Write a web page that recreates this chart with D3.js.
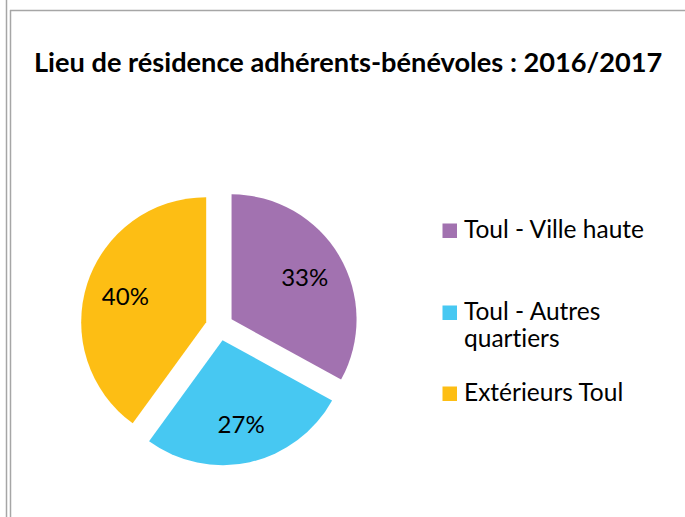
<!DOCTYPE html>
<html>
<head>
<meta charset="utf-8">
<script src="https://cdn.jsdelivr.net/npm/d3@7"></script>
<style>
  html, body { margin: 0; padding: 0; background: #fff; }
  svg { display: block; }
  text { font-family: Lato, "Open Sans", sans-serif; font-variant-ligatures: none; }
</style>
</head>
<body>
<svg id="chart" width="685" height="517"></svg>
<script>
const titleText = "Lieu de résidence adhérents-bénévoles : 2016/2017";
const categories = ["Toul - Ville haute", "Toul - Autres quartiers", "Extérieurs Toul"];
const legendLines = [["Toul - Ville haute"], ["Toul - Autres", "quartiers"], ["Extérieurs Toul"]];
const values = [33, 27, 40];
const colors = ["#A272B0", "#47C8F2", "#FDBE14"];

const svg = d3.select("#chart");

// frame lines
svg.append("line").attr("x1", 6.5).attr("x2", 6.5).attr("y1", 0).attr("y2", 517)
  .attr("stroke", "#a6a6a6").attr("stroke-width", 1.5);
svg.append("line").attr("x1", 10.5).attr("x2", 10.5).attr("y1", 10).attr("y2", 517)
  .attr("stroke", "#a6a6a6").attr("stroke-width", 1.5);
svg.append("line").attr("x1", 10).attr("x2", 685).attr("y1", 10.5).attr("y2", 10.5)
  .attr("stroke", "#a6a6a6").attr("stroke-width", 1.5);

// title
svg.append("text").attr("x", 34).attr("y", 72)
  .attr("font-weight", "bold").attr("font-size", 27.2).attr("fill", "#000")
  .text(titleText);

// pie
const cx = 219.5, cy = 326.5, r = 125, explode = 14;
const pie = d3.pie().sort(null).value(d => d)(values);
const arc = d3.arc().innerRadius(0).outerRadius(r);
const labelArc = d3.arc().innerRadius(r * 0.68).outerRadius(r * 0.68);

const g = svg.append("g").attr("transform", `translate(${cx},${cy})`);
const slices = g.selectAll("g.slice").data(pie).enter().append("g")
  .attr("class", "slice")
  .attr("transform", d => {
    const m = (d.startAngle + d.endAngle) / 2;
    return `translate(${Math.sin(m) * explode},${-Math.cos(m) * explode})`;
  });
slices.append("path").attr("d", arc).attr("fill", (d, i) => colors[i]);
slices.append("text")
  .attr("transform", d => `translate(${labelArc.centroid(d)})`)
  .attr("text-anchor", "middle").attr("dominant-baseline", "central")
  .attr("font-size", 24).attr("fill", "#000")
  .text(d => d.value + "%");

// legend
const legendBaselines = [238, 320, 401];
const lineGap = 27;
const lg = svg.append("g");
categories.forEach((c, i) => {
  const b = legendBaselines[i];
  lg.append("rect").attr("x", 442.5).attr("y", b - 14.5).attr("width", 14.5).attr("height", 14.5)
    .attr("fill", colors[i]);
  const t = lg.append("text").attr("x", 464).attr("y", b).attr("font-size", 24.5).attr("fill", "#000");
  legendLines[i].forEach((ln, j) => {
    t.append("tspan").attr("x", 464).attr("dy", j === 0 ? 0 : lineGap).text(ln);
  });
});
</script>
</body>
</html>
